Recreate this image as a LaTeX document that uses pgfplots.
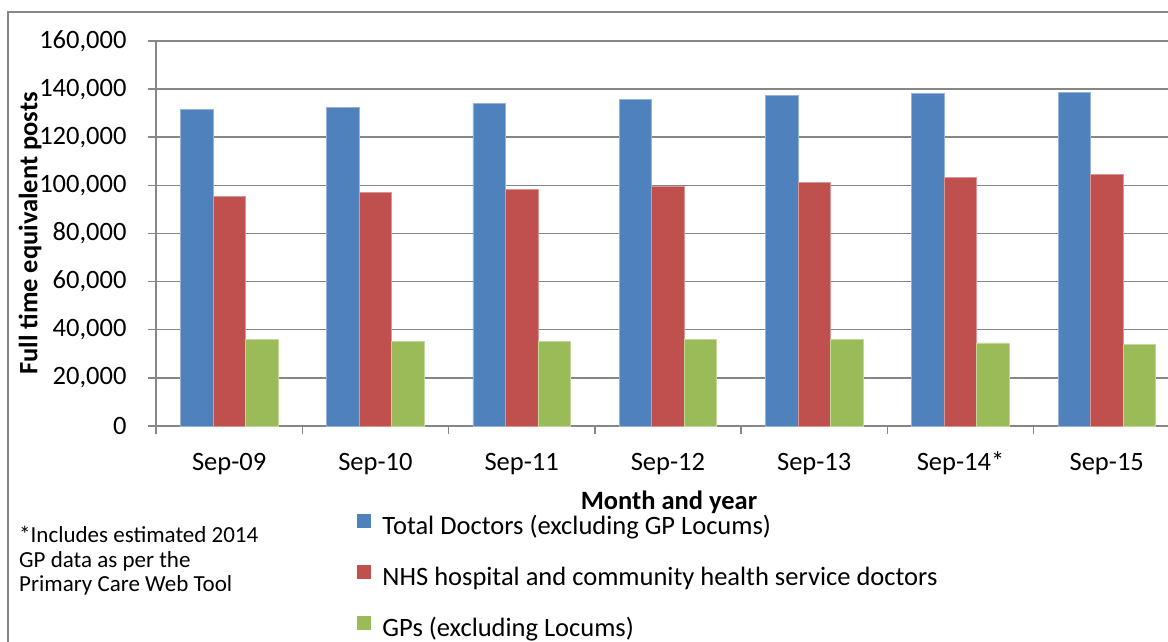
\documentclass[border=0pt]{standalone}
\usepackage{pgfplots}
\pgfplotsset{compat=1.18}
\usepackage{fontspec}
\setmainfont{Carlito}
\definecolor{cblue}{HTML}{4F81BD}
\definecolor{cred}{HTML}{C0504D}
\definecolor{cgreen}{HTML}{9BBB59}
\definecolor{ggray}{HTML}{868686}
\newcommand{\tkfont}{\fontsize{26.5}{31}\selectfont}
\begin{document}
\begin{tikzpicture}
\useasboundingbox (-156pt,-216pt) rectangle (1012pt,426pt);
\clip (-156pt,-216pt) rectangle (1012pt,426pt);
\fill[white] (-156pt,-216pt) rectangle (1012pt,426pt);
\draw[ggray, line width=1.5pt] (-148pt,-240pt) -- (-148pt,414pt) -- (1040pt,414pt);
\begin{axis}[
  scale only axis, width=1024pt, height=385pt,
  xmin=-0.5, xmax=6.5, ymin=0, ymax=160000,
  ybar=0pt, bar width=32.5pt,
  axis x line*=bottom, axis y line*=left,
  axis line style={draw=ggray, line width=1.5pt, -},
  tick align=outside,
  major tick length=8pt, minor tick length=8pt,
  xtick={0,...,6},
  xticklabels={Sep-09,Sep-10,Sep-11,Sep-12,Sep-13,Sep-14*,Sep-15},
  minor xtick={-0.5,0.5,...,6.5},
  major x tick style={draw=none},
  minor x tick style={draw=ggray, line width=1.5pt},
  ytick={0,20000,...,160000},
  ytick style={draw=ggray, line width=1.5pt},
  ymajorgrids, grid style={draw=ggray, line width=1.5pt},
  scaled y ticks=false,
  /pgf/number format/fixed,
  /pgf/number format/1000 sep={,},
  /pgf/number format/assume math mode=true,
  xticklabel style={font=\tkfont, text height=18pt, text depth=6pt, yshift=-15pt},
  yticklabel style={font=\tkfont, xshift=-18pt},
  xlabel={\bfseries Month and year},
  ylabel={\bfseries Full time equivalent posts},
  xlabel style={font=\tkfont, at={(axis description cs:0.501,0)}, anchor=center, yshift=-76pt},
  ylabel style={font=\tkfont, at={(axis description cs:-0.123,0.5)}, anchor=center},
  legend style={at={(axis description cs:0.196,-0.229)}, anchor=north west,
    draw=none, fill=none, font=\tkfont, row sep=24.5pt, inner sep=0pt,
    nodes={inner sep=0pt, text height=18pt, text depth=6pt}},
  legend cell align=left,
]
\addplot[fill=cblue, draw=cblue!60!white, line width=0.6pt,
  legend image code/.code={\fill[cblue] (0pt,1pt) rectangle (13pt,14pt); \path (25pt,1pt);}]
  coordinates {(0,131500) (1,132400) (2,134000) (3,135700) (4,137500) (5,138200) (6,138600)};
\addplot[fill=cred, draw=cred!60!white, line width=0.6pt,
  legend image code/.code={\fill[cred] (0pt,1pt) rectangle (13pt,14pt); \path (25pt,1pt);}]
  coordinates {(0,95400) (1,97100) (2,98300) (3,99600) (4,101100) (5,103200) (6,104500)};
\addplot[fill=cgreen, draw=cgreen!60!white, line width=0.6pt,
  legend image code/.code={\fill[cgreen] (0pt,1pt) rectangle (13pt,14pt); \path (25pt,1pt);}]
  coordinates {(0,35900) (1,35000) (2,35300) (3,35900) (4,36100) (5,34500) (6,33900)};
\legend{Total Doctors (excluding GP Locums),NHS hospital and community health service doctors,GPs (excluding Locums)}
\end{axis}
\node[anchor=north west, align=left, inner sep=0pt, font=\fontsize{23}{24.5}\selectfont]
  at (-137pt,-100pt) {*Includes estimated 2014\\GP data as per the\\Primary Care Web Tool};
\end{tikzpicture}
\end{document}
